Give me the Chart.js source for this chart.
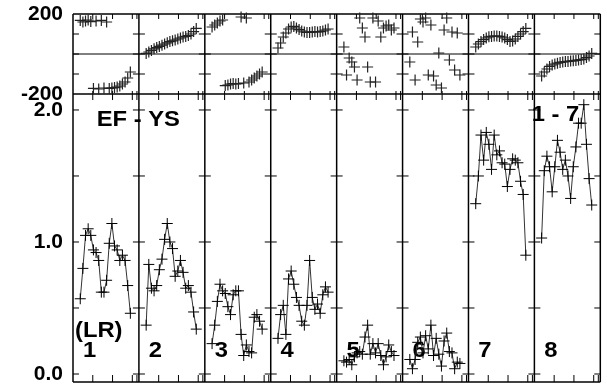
<!DOCTYPE html>
<html>
<head>
<meta charset="utf-8">
<script src="https://cdn.jsdelivr.net/npm/chart.js@4/dist/chart.umd.min.js"></script>
<style>
  html, body { margin: 0; padding: 0; background: #fff; }
  #contenedor { width: 607px; height: 390px; }
</style>
</head>
<body>
<div id="contenedor"><canvas id="grafico"></canvas></div>
<script>
// columnas (estaciones) y posicion de cada periodo dentro de la columna
const estaciones = ["1", "2", "3", "4", "5", "6", "7", "8"];
const periodos = [0.11, 0.15, 0.19, 0.23, 0.27, 0.31, 0.35, 0.39, 0.43, 0.47,
                  0.51, 0.55, 0.59, 0.63, 0.67, 0.71, 0.75, 0.79, 0.83, 0.87];

// panel inferior (0 - 2.0)
const rho1 = [0.57, 0.80, 1.05, 1.10, 1.05, 0.94, 0.92, 0.86, 0.62, 0.62, 0.71, 0.99, 1.14, 0.97, 0.94, 0.86, 0.90, 0.86, 0.67, 0.46];
const rho2 = [0.37, 0.83, 0.65, 0.63, 0.67, 0.79, 0.87, 1.02, 1.14, 1.00, 0.95, 0.74, 0.78, 0.86, 0.77, 0.65, 0.67, 0.62, 0.47, 0.34];
const rho3 = [0.23, 0.37, 0.55, 0.68, 0.63, 0.61, 0.51, 0.45, 0.60, 0.63, 0.63, 0.30, 0.14, 0.22, 0.17, 0.16, 0.43, 0.45, 0.40, 0.34];
const rho4 = [0.27, 0.45, 0.52, 0.30, 0.72, 0.78, 0.68, 0.58, 0.52, 0.40, 0.37, 0.52, 0.86, 0.58, 0.49, 0.53, 0.46, 0.60, 0.66, 0.62];
const rho5 = [0.10, 0.09, 0.11, 0.07, 0.13, 0.16, 0.17, 0.15, 0.28, 0.37, 0.15, 0.23, 0.16, 0.23, 0.14, 0.07, 0.13, 0.22, 0.17, 0.14];
const rho6 = [0.11, 0.04, 0.11, 0.24, 0.28, 0.16, 0.29, 0.19, 0.37, 0.14, 0.27, 0.15, 0.06, 0.25, 0.31, 0.17, 0.16, 0.04, 0.09, 0.08];
const rho7 = [1.29, 1.50, 1.81, 1.62, 1.83, 1.74, 1.55, 1.81, 1.66, 1.69, 1.60, 1.59, 1.42, 1.55, 1.63, 1.62, 1.60, 1.46, 1.36, 0.90];
const rho8 = [1.03, 1.54, 1.65, 1.57, 1.38, 1.57, 1.77, 1.68, 1.55, 1.62, 1.50, 1.33, 1.57, 1.72, 1.90, 1.90, 2.04, 1.74, 1.48, 1.28];

// panel superior (fase, -200 a 200)
const fase1 = [168, 160, 165, 170, 162, -172, 165, -175, 168, -170, 160, -172, -170, -168, -165, -160, -150, -140, -120, -90];
const fase2 = [3, 10, 18, 26, 32, 38, 44, 50, 56, 62, 66, 70, 75, 80, 85, 88, 92, 100, 112, 128];
const fase3 = [135, 145, 155, 165, 170, -158, -155, -150, -148, -150, -148, 185, -145, 180, -140, -130, -120, -110, -100, -90];
const fase4 = [30, 55, 85, 105, 125, 135, 138, 130, 122, 115, 110, 108, 108, 110, 112, 110, 112, 115, 120, 125];
const fase5 = [35, -105, -20, -40, -65, -130, 180, 130, 85, -65, -140, 180, -140, 165, 85, 130, 140, 145, 120, 130];
const fase6 = [-40, 110, -130, 60, 175, 160, 180, -105, 145, -110, -155, 5, -170, 120, 180, -30, 110, -80, 105, -105];
const fase7 = [35, 50, 62, 72, 80, 86, 88, 90, 90, 88, 85, 80, 72, 63, 65, 75, 88, 100, 112, 128];
const fase8 = [-110, -90, -75, -62, -55, -50, -46, -42, -40, -38, -37, -35, -34, -32, -30, -28, -25, -18, -10, 3];

const ticksRho = [0, 1, 2];
const marcasRho = [0, 0.5, 1, 1.5, 2];
const ticksFase = [-200, 200];
const marcasFase = [-100, 0, 100];
const marcasPeriodo = [0.3, 0.6, 0.9, 0.97];

const columnasRho = [rho1, rho2, rho3, rho4, rho5, rho6, rho7, rho8];
const columnasFase = [fase1, fase2, fase3, fase4, fase5, fase6, fase7, fase8];

const FUENTE = "'Liberation Sans', Arial, sans-serif";

function puntos(valores, c) {
  return valores.map((v, i) => ({ x: c + periodos[i], y: v }));
}

const datasets = [];
estaciones.forEach((_, c) => {
  datasets.push({
    data: puntos(columnasRho[c], c),
    yAxisID: "y",
    showLine: true,
    borderColor: "#333",
    borderWidth: 1,
    pointStyle: "cross",
    pointRadius: 5.5,
    pointBorderWidth: 1,
    pointBorderColor: "#000",
    tension: 0,
    clip: false
  });
  datasets.push({
    data: puntos(columnasFase[c], c),
    yAxisID: "yPhase",
    showLine: false,
    pointStyle: "cross",
    pointRadius: 5.5,
    pointBorderWidth: 1.2,
    pointBorderColor: "#222",
    clip: false
  });
});

// texto algo mas ancho que alto, como en la figura original
function texto(ctx, t, px, py) {
  ctx.save();
  ctx.translate(px, py);
  ctx.scale(1.08, 1);
  ctx.fillText(t, 0, 0);
  ctx.restore();
}

const marcoPlugin = {
  id: "marco",
  beforeDatasetsDraw(chart) {
    const { ctx, chartArea: a, scales } = chart;
    const x = scales.x, yr = scales.y, yp = scales.yPhase;
    const n = estaciones.length;
    const linea = (x1, y1, x2, y2) => { ctx.beginPath(); ctx.moveTo(x1, y1); ctx.lineTo(x2, y2); ctx.stroke(); };

    ctx.save();
    ctx.strokeStyle = "#000";
    ctx.lineWidth = 1.5;
    for (let c = 0; c <= n; c++) {
      const px = x.getPixelForValue(c);
      linea(px, a.top, px, a.bottom);
    }
    linea(a.left, a.top, a.right, a.top);
    linea(a.left, a.bottom, a.right, a.bottom);
    linea(a.left, yp.bottom, a.right, yp.bottom);

    ctx.lineWidth = 1;
    linea(a.left, yp.getPixelForValue(0), a.right, yp.getPixelForValue(0));

    // marcas horizontales en cada division
    for (let c = 0; c <= n; c++) {
      const px = x.getPixelForValue(c);
      const izq = c === 0 ? px : px - 6;
      const der = c === n ? px : px + 6;
      marcasRho.forEach(v => { const py = yr.getPixelForValue(v); linea(izq, py, der, py); });
      marcasFase.forEach(v => { const py = yp.getPixelForValue(v); linea(izq, py, der, py); });
    }
    // marcas de periodo
    for (let c = 0; c < n; c++) {
      marcasPeriodo.forEach(f => {
        const px = x.getPixelForValue(c + f);
        linea(px, a.top, px, a.top + 5);
        linea(px, yp.bottom - 3, px, yp.bottom + 6);
        linea(px, a.bottom - 7, px, a.bottom);
      });
    }

    // textos
    ctx.fillStyle = "#000";
    ctx.font = "bold 22px " + FUENTE;
    ctx.textAlign = "left";
    ctx.textBaseline = "middle";
    texto(ctx, "EF - YS", x.getPixelForValue(0.36), yr.getPixelForValue(1.925));
    texto(ctx, "1 - 7", x.getPixelForValue(6.96), yr.getPixelForValue(1.96));
    texto(ctx, "(LR)", x.getPixelForValue(0.03), yr.getPixelForValue(0.325));
    estaciones.forEach((e, c) => {
      texto(ctx, e, x.getPixelForValue(c + 0.15), yr.getPixelForValue(0.174));
    });
    ctx.restore();
  }
};

function ajustarEje(s) {
  s.width = 73;
  s.paddingTop = 0;
  s.paddingBottom = 0;
}

new Chart(document.getElementById("grafico"), {
  type: "line",
  data: { datasets },
  options: {
    responsive: true,
    maintainAspectRatio: false,
    animation: false,
    devicePixelRatio: 1,
    layout: { padding: { top: 14, right: 3, bottom: 8, left: 0 } },
    plugins: { legend: { display: false }, tooltip: { enabled: false } },
    scales: {
      x: { type: "linear", min: 0, max: estaciones.length, display: false },
      y: {
        type: "linear",
        position: "left",
        stack: "paneles",
        stackWeight: 288,
        min: -0.0606,
        max: 2.121,
        afterBuildTicks: s => { s.ticks = ticksRho.map(v => ({ value: v })); },
        afterFit: ajustarEje,
        grid: { display: false, drawTicks: false },
        border: { display: false },
        ticks: {
          padding: 10,
          color: "#000",
          font: { family: FUENTE, size: 21, weight: "bold" },
          callback: v => v.toFixed(1)
        }
      },
      yPhase: {
        type: "linear",
        position: "left",
        stack: "paneles",
        stackWeight: 80,
        min: -200,
        max: 200,
        afterBuildTicks: s => { s.ticks = ticksFase.map(v => ({ value: v })); },
        afterFit: ajustarEje,
        grid: { display: false, drawTicks: false },
        border: { display: false },
        ticks: {
          padding: 10,
          color: "#000",
          font: { family: FUENTE, size: 21, weight: "bold" },
          callback: v => String(v)
        }
      }
    }
  },
  plugins: [marcoPlugin]
});
</script>
</body>
</html>
